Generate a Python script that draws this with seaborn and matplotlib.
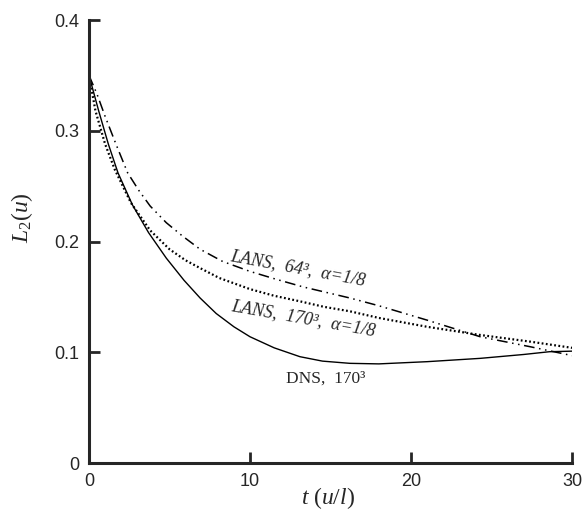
import matplotlib
matplotlib.use("Agg")
import matplotlib.pyplot as plt
import seaborn as sns
import pandas as pd

# values
t_dns = [0, 0.6, 1.2, 1.8, 2.7, 3.7, 4.8, 5.9, 6.9, 7.9, 9, 10, 11.5, 13.1, 14.5, 16.2,
         18, 21, 24.3, 27, 28.6, 30]
l2_dns = [0.35, 0.318, 0.288, 0.262, 0.233, 0.208, 0.185, 0.165, 0.149, 0.135, 0.123, 0.114,
          0.104, 0.096, 0.092, 0.090, 0.0895, 0.0915, 0.0945, 0.098, 0.1005, 0.101]

t_lans170 = [0, 0.4, 1.0, 1.6, 2.6, 3.8, 5.0, 6.0, 6.9, 8.1, 10, 11.5, 13.1, 14.6, 16.2,
             18, 21, 24.3, 27.4, 30]
l2_lans170 = [0.35, 0.318, 0.288, 0.265, 0.235, 0.210, 0.193, 0.183, 0.176, 0.167, 0.157,
              0.151, 0.146, 0.141, 0.137, 0.131, 0.123, 0.1156, 0.1096, 0.104]

t_lans64 = [0, 0.5, 1.0, 1.7, 2.4, 3.1, 3.8, 4.8, 5.8, 6.9, 8.3, 10, 11.6, 13.3, 16.2,
            18, 21, 24.3, 27.4, 30]
l2_lans64 = [0.35, 0.333, 0.313, 0.287, 0.262, 0.246, 0.232, 0.217, 0.205, 0.193, 0.182,
             0.173, 0.166, 0.159, 0.149, 0.142, 0.129, 0.114, 0.105, 0.097]

x_ticks = [0, 10, 20, 30]
y_ticks = [0, 0.1, 0.2, 0.3, 0.4]
y_ticklabels = ["0", "0.1", "0.2", "0.3", "0.4"]

sns.set_style("ticks")
plt.rcParams["font.family"] = ["Liberation Sans", "DejaVu Sans"]
plt.rcParams["mathtext.fontset"] = "custom"
plt.rcParams["mathtext.rm"] = "Liberation Serif"
plt.rcParams["mathtext.it"] = "Liberation Serif:italic"

fig = plt.figure(figsize=(5.84, 5.21), dpi=100)
ax = fig.add_axes([0.1524, 0.1113, 0.8271, 0.8503])

dns = pd.DataFrame({"t": t_dns, "L2": l2_dns})
lans170 = pd.DataFrame({"t": t_lans170, "L2": l2_lans170})
lans64 = pd.DataFrame({"t": t_lans64, "L2": l2_lans64})

sns.lineplot(data=dns, x="t", y="L2", ax=ax, color="black", lw=1.0,
             estimator=None, errorbar=None)
sns.lineplot(data=lans170, x="t", y="L2", ax=ax, color="black", lw=1.6,
             linestyle=(0, (0.8, 1.1)), estimator=None, errorbar=None)
sns.lineplot(data=lans64, x="t", y="L2", ax=ax, color="black", lw=1.1,
             linestyle=(0, (7, 3, 1, 3, 1, 3)), estimator=None, errorbar=None)

ax.set_xlim(0, 30)
ax.set_ylim(0, 0.4)
ax.set_xticks(x_ticks)
ax.set_yticks(y_ticks)
ax.set_yticklabels(y_ticklabels)
ax.tick_params(direction="in", length=8, width=2, labelsize=13, pad=7)
sns.despine(ax=ax)
for side in ["left", "bottom"]:
    ax.spines[side].set_linewidth(2.2)

ax.set_xlabel(r"$t\ (u/l)$", fontsize=17)
ax.set_ylabel(r"$L_2(u)$", fontsize=17)
ax.xaxis.set_label_coords(0.495, -0.05)
ax.yaxis.set_label_coords(-0.112, 0.553)

serif = ["Liberation Serif", "DejaVu Serif"]
ax.text(13.0, 0.176, "LANS,  64³,  α=1/8", family=serif, style="italic", fontsize=13,
        rotation=-10.5, rotation_mode="anchor", ha="center", va="center")
ax.text(13.3, 0.131, "LANS,  170³,  α=1/8", family=serif, style="italic", fontsize=13,
        rotation=-10, rotation_mode="anchor", ha="center", va="center")
ax.text(14.7, 0.076, "DNS,  170³", family=serif, fontsize=12.5, ha="center", va="center")

fig.savefig("out.png", dpi=100)
